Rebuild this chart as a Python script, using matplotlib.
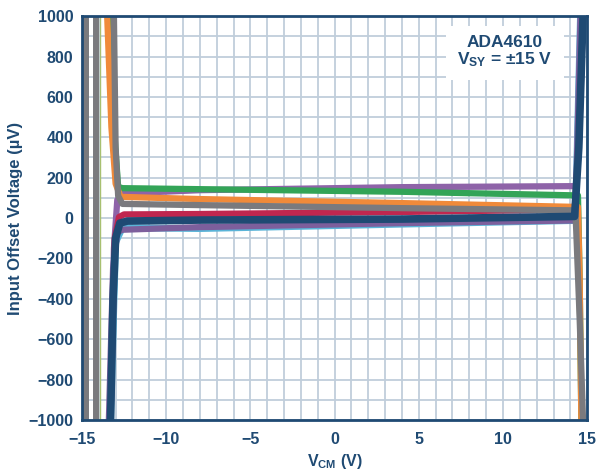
import numpy as np
import matplotlib.pyplot as plt
from matplotlib.ticker import MultipleLocator

plt.rcParams['font.family'] = ['Liberation Sans', 'DejaVu Sans']
plt.rcParams['mathtext.fontset'] = 'custom'
plt.rcParams['mathtext.bf'] = 'Liberation Sans:bold'
plt.rcParams['mathtext.rm'] = 'Liberation Sans'

navy = '#1f4a73'

x_ticks = [-15, -10, -5, 0, 5, 10, 15]
y_ticks = [-1000, -800, -600, -400, -200, 0, 200, 400, 600, 800, 1000]

# curves (V_CM in V, offset in uV)
gray_a_x = [-14.75, -14.75]
gray_a_y = [-1000, 1000]
gray_b_x = [-14.15, -14.15]
gray_b_y = [-1000, 1000]
thin_x = [-13.95, -13.95]
thin_y = [-1000, 1000]

blue_x = [-13.3, -13.0, -12.6, -8, 4, 14.3, 14.6]
blue_y = [-1000, -120, -48, -52, -30, -12, 1000]

purple_lo_x = [-13.4, -13.15, -12.9, -12.6, -8, 4, 14.3, 14.6]
purple_lo_y = [-1000, -250, -70, -58, -45, -25, -12, 1000]

purple_hi_x = [-13.3, -13.1, -12.9, -12.5, -8, 4, 14.35, 14.5, 14.7]
purple_hi_y = [-1000, -150, 90, 122, 138, 153, 158, 400, 1000]

red_x = [-13.3, -13.05, -12.8, -12.5, -8, 4, 14.25, 14.5, 14.75]
red_y = [-1000, -100, 5, 18, 20, 30, 42, 350, 1000]

green_x = [-13.4, -13.1, -12.85, -12.6, -8, 4, 14.45, 14.55, 14.65]
green_y = [1000, 450, 155, 148, 143, 130, 112, -300, -1000]

orange_x = [-13.5, -13.25, -13.0, -12.7, -8, 4, 14.45, 14.55, 14.65]
orange_y = [1000, 450, 170, 105, 94, 74, 55, -300, -1000]

gray_x = [-13.1, -13.0, -12.85, -12.6, -8, 4, 14.3, 14.55, 14.75]
gray_y = [1000, 350, 110, 70, 64, 49, 38, -500, -1000]

navy_x = [-13.3, -13.15, -13.0, -12.75, -12.3, -8, 4, 14.25, 14.5, 14.75]
navy_y = [-1000, -400, -100, -25, -15, -10, -5, 8, 350, 1000]

fig = plt.figure(figsize=(5.98, 4.74), dpi=100)
ax = fig.add_axes([0.137, 0.114, 0.845, 0.852])

ax.plot(gray_a_x, gray_a_y, color='#7a7a7e', lw=4.3, solid_capstyle='butt')
ax.plot(gray_b_x, gray_b_y, color='#7a7a7e', lw=4.3, solid_capstyle='butt')
ax.plot(thin_x, thin_y, color='#a8c070', lw=1.0)
ax.plot(blue_x, blue_y, color='#5ab4d8', lw=5.0)
ax.plot(purple_lo_x, purple_lo_y, color='#7d5f9c', lw=4.5)
ax.plot(purple_hi_x, purple_hi_y, color='#8e63a8', lw=4.5)
ax.plot(red_x, red_y, color='#c0274f', lw=4.5)
ax.plot(green_x, green_y, color='#33a457', lw=4.5)
ax.plot(orange_x, orange_y, color='#f08a3a', lw=4.5)
ax.plot(gray_x, gray_y, color='#7a7a7e', lw=4.5)
ax.plot(navy_x, navy_y, color=navy, lw=5.5)

ax.set_xlim(-15, 15)
ax.set_ylim(-1000, 1000)
ax.set_xticks(x_ticks)
ax.set_xticklabels([str(v).replace('-', '\u2212') for v in x_ticks], fontweight='bold')
ax.set_yticks(y_ticks)
ax.set_yticklabels([str(v).replace('-', '\u2212') for v in y_ticks], fontweight='bold')
ax.xaxis.set_minor_locator(MultipleLocator(1))
ax.yaxis.set_minor_locator(MultipleLocator(100))
ax.grid(which='both', color='#c0cedb', lw=1.3)
ax.set_axisbelow(True)
ax.tick_params(which='both', length=0, colors=navy, labelsize=11.5)
ax.tick_params(axis='x', pad=9)
ax.tick_params(axis='y', pad=6)
for sp in ax.spines.values():
    sp.set_color(navy)
    sp.set_linewidth(2)

ax.set_xlabel(r'$\mathbf{V_{CM}}$ (V)', color=navy, fontsize=11.5, fontweight='bold', labelpad=3)
ax.set_ylabel('Input Offset Voltage (\u00b5V)', color=navy, fontsize=12, fontweight='bold', labelpad=4)

ax.text(10.1, 822, 'ADA4610\n' + r'$\mathbf{V_{SY}}$' + ' = \u00b115 V', ha='center', va='center',
        color=navy, fontsize=12.5, fontweight='bold', linespacing=1.0,
        bbox=dict(facecolor='white', edgecolor='none', pad=8))

fig.savefig('out.png', dpi=100)
